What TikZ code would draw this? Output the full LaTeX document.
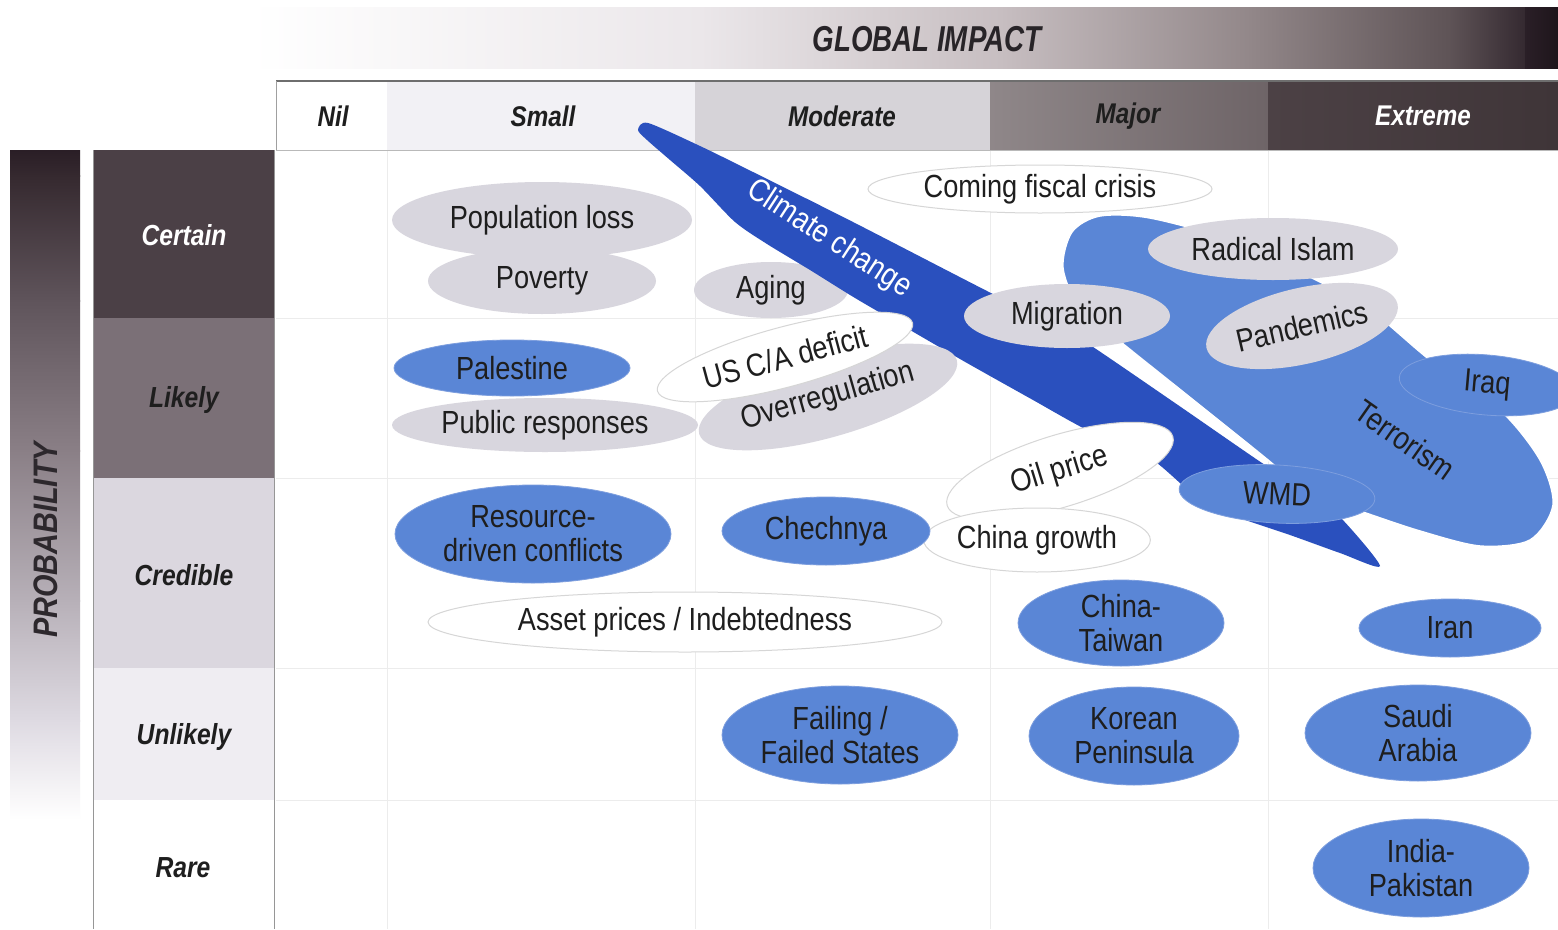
\documentclass[tikz,border=0pt]{standalone}
\usepackage{fontspec}
\setmainfont{Liberation Sans}[FakeStretch=0.85]
\newfontfamily\titlefont{Liberation Sans}[FakeStretch=0.77]
\usetikzlibrary{shapes.geometric}

\definecolor{ink}{HTML}{1E1E1E}
\definecolor{midblue}{RGB}{90,134,214}
\definecolor{blueedge}{RGB}{125,158,222}
\definecolor{bandblue}{RGB}{42,80,190}
\definecolor{bubgrey}{RGB}{216,214,222}
\definecolor{whiteedge}{RGB}{214,214,214}
\definecolor{gridc}{RGB}{236,236,236}

\begin{document}
\begin{tikzpicture}[x=1pt,y=-1pt,
  bub/.style={ellipse, inner sep=0pt, align=center, text=ink,
    font=\fontsize{32}{34}\selectfont},
  bluebub/.style={bub, fill=midblue, draw=blueedge, line width=0.8pt},
  greybub/.style={bub, fill=bubgrey},
  whitebub/.style={bub, fill=white, draw=whiteedge, line width=1pt},
  hdr/.style={font=\fontsize{28.5}{30}\selectfont\bfseries\itshape, text=ink},
  rowlab/.style={font=\fontsize{29}{30}\selectfont\bfseries\itshape, text=ink},
  gridline/.style={draw=gridc, line width=1pt}]

\clip (0,0) rectangle (1558,929);
\fill[white] (0,0) rectangle (1558,929);

% ---- impact bar across the top ----
\fill[left color=white, right color={rgb,255:red,235;green,231;blue,234}] (250,7) rectangle (701,68);
\fill[left color={rgb,255:red,235;green,231;blue,234}, right color={rgb,255:red,199;green,190;blue,193}] (700,7) rectangle (1001,68);
\fill[left color={rgb,255:red,199;green,190;blue,193}, right color={rgb,255:red,146;green,135;blue,137}] (1000,7) rectangle (1251,68);
\fill[left color={rgb,255:red,146;green,135;blue,137}, right color={rgb,255:red,94;green,83;blue,86}] (1250,7) rectangle (1451,68);
\fill[left color={rgb,255:red,94;green,83;blue,86}, right color={rgb,255:red,52;green,41;blue,48}] (1450,7) rectangle (1526,68);
\fill[left color={rgb,255:red,42;green,31;blue,39}, right color={rgb,255:red,30;green,21;blue,27}] (1525,7) rectangle (1558,68);
\node[font=\titlefont\fontsize{36}{38}\selectfont\bfseries\itshape, text={rgb,255:red,40;green,36;blue,40}] (title) at (927,39) {GLOBAL IMPACT};

% ---- impact header cells ----
\fill[white] (276,82) rectangle (387,150);
\fill[color={rgb,255:red,242;green,241;blue,245}] (387,82) rectangle (695,150);
\fill[color={rgb,255:red,214;green,211;blue,216}] (695,82) rectangle (990,150);
\fill[left color={rgb,255:red,143;green,135;blue,137}, right color={rgb,255:red,110;green,100;blue,103}] (990,82) rectangle (1268,150);
\fill[left color={rgb,255:red,76;green,65;blue,69}, right color={rgb,255:red,63;green,53;blue,56}] (1268,82) rectangle (1558,150);
\draw[color={rgb,255:red,110;green,110;blue,110}, line width=2pt] (276,81) -- (1558,81);
\draw[color={rgb,255:red,160;green,160;blue,160}, line width=1pt] (276,81) -- (276,150);
\draw[color={rgb,255:red,185;green,185;blue,185}, line width=1pt] (276,150) -- (1558,150);
\node[hdr] (hnil) at (333,116) {Nil};
\node[hdr] (hsmall) at (543,116) {Small};
\node[hdr] (hmod) at (842,116) {Moderate};
\node[hdr] (hmajor) at (1128,116) {Major};
\node[hdr, text=white] (hext) at (1423,116) {Extreme};

% ---- probability bar ----
\fill[top color={rgb,255:red,42;green,30;blue,38}, bottom color={rgb,255:red,53;green,41;blue,47}] (10,150) rectangle (80,176);
\fill[top color={rgb,255:red,53;green,41;blue,47}, bottom color={rgb,255:red,95;green,84;blue,91}] (10,175) rectangle (80,301);
\fill[top color={rgb,255:red,95;green,84;blue,91}, bottom color={rgb,255:red,138;green,127;blue,134}] (10,300) rectangle (80,451);
\fill[top color={rgb,255:red,138;green,127;blue,134}, bottom color={rgb,255:red,183;green,176;blue,184}] (10,450) rectangle (80,601);
\fill[top color={rgb,255:red,183;green,176;blue,184}, bottom color={rgb,255:red,222;green,218;blue,226}] (10,600) rectangle (80,721);
\fill[top color={rgb,255:red,222;green,218;blue,226}, bottom color=white] (10,720) rectangle (80,820);
\node[rotate=90, font=\fontsize{34}{36}\selectfont\bfseries\itshape, text={rgb,255:red,45;green,40;blue,45}] (prob) at (46,540) {PROBABILITY};

% ---- probability row labels ----
\fill[color={rgb,255:red,75;green,64;blue,70}] (93,150) rectangle (274,318);
\fill[color={rgb,255:red,123;green,112;blue,119}] (93,318) rectangle (274,478);
\fill[color={rgb,255:red,219;green,215;blue,223}] (93,478) rectangle (274,668);
\fill[color={rgb,255:red,239;green,237;blue,242}] (93,668) rectangle (274,800);
\draw[color={rgb,255:red,150;green,150;blue,150}, line width=1pt] (93,150) -- (93,929);
\draw[color={rgb,255:red,150;green,150;blue,150}, line width=1pt] (274,150) -- (274,929);
\node[rowlab, text=white] (rcertain) at (184,235) {Certain};
\node[rowlab] (rlikely) at (184,400) {Likely};
\node[rowlab] (rcredible) at (184,575) {Credible};
\node[rowlab] (runlikely) at (184,737) {Unlikely};
\node[rowlab] (rrare) at (183,868) {Rare};

% ---- faint grid ----
\foreach \yy in {318,478,668,800} \draw[gridline] (276,\yy) -- (1558,\yy);
\foreach \xx in {387,695,990,1268} \draw[gridline] (\xx,151) -- (\xx,929);

% ---- items lying under the climate band ----
\node[greybub, minimum width=154pt, minimum height=56pt] (aging) at (771,290) {Aging};

% ---- climate change band ----
\fill[bandblue] plot[smooth cycle, tension=0.45] coordinates {
  (1380,566) (1340,553) (1290,535) (1240,518) (1200,500) (1150,458)
  (1087,430) (1033,400) (967,363) (910,330) (855,298) (810,270)
  (767,244) (735,222) (700,186) (670,160) (647,140) (638,130) (648,123)
  (700,146) (753,172) (853,222) (987,291) (1050,322) (1087,343)
  (1175,403) (1262,463) (1305,490) (1340,517)};
\node[font=\fontsize{32}{34}\selectfont, text=white, rotate=-33] (climate) at (829,239) {Climate change};

% ---- terrorism region ----
\filldraw[fill=midblue, draw=white, line width=1.5pt] plot[smooth cycle, tension=0.5] coordinates {
  (1063,268) (1072,232) (1100,216) (1150,218) (1230,240) (1310,277)
  (1370,310) (1430,360) (1500,410) (1540,460) (1553,505) (1530,540)
  (1480,546) (1420,531) (1360,511) (1300,490) (1274,465) (1197,403)
  (1122,343) (1080,308)};

% ---- grey, white and blue bubbles ----
\node[greybub, minimum width=228pt, minimum height=66pt] (poverty) at (542,281) {Poverty};
\node[greybub, minimum width=300pt, minimum height=76pt] (poploss) at (542,220) {Population loss};
\node[bluebub, minimum width=236pt, minimum height=56pt] (palestine) at (512,368) {Palestine};
\node[greybub, minimum width=306pt, minimum height=54pt] (public) at (545,425) {Public responses};
\node[greybub, minimum width=268pt, minimum height=80pt, rotate=16] (overreg) at (828,397) {Overregulation};
\node[whitebub, minimum width=264pt, minimum height=60pt, rotate=15] (usca) at (785,357) {US C/A deficit};
\node[whitebub, minimum width=344pt, minimum height=48pt] (fiscal) at (1040,189) {Coming fiscal crisis};
\node[greybub, minimum width=206pt, minimum height=64pt] (migration) at (1067,316) {Migration};
\node[greybub, minimum width=250pt, minimum height=62pt] (radical) at (1273,249) {Radical Islam};
\node[greybub, minimum width=196pt, minimum height=76pt, rotate=13] (pandemics) at (1302,326) {Pandemics};
\node[bluebub, minimum width=176pt, minimum height=60pt, rotate=-5] (iraq) at (1487,385) {Iraq};
\node[font=\fontsize{32}{34}\selectfont, text=ink, rotate=-35] (terror) at (1405,440) {Terrorism};
\node[whitebub, minimum width=236pt, minimum height=72pt, rotate=17] (oil) at (1060,471) {Oil price};
\node[whitebub, minimum width=206pt, minimum height=64pt] (chinagr) at (1037,540) {China growth};
\node[bluebub, minimum width=196pt, minimum height=58pt, rotate=-3] (wmd) at (1277,494) {WMD};
\node[bluebub, minimum width=276pt, minimum height=98pt] (resource) at (533,534) {Resource-\\driven conflicts};
\node[bluebub, minimum width=208pt, minimum height=68pt] (chechnya) at (826,531) {Chechnya};
\node[whitebub, minimum width=514pt, minimum height=60pt] (asset) at (685,622) {Asset prices / Indebtedness};
\node[bluebub, minimum width=206pt, minimum height=86pt] (chinatw) at (1121,623) {China-\\Taiwan};
\node[bluebub, minimum width=182pt, minimum height=58pt] (iran) at (1450,628) {Iran};
\node[bluebub, minimum width=236pt, minimum height=98pt] (failing) at (840,735) {Failing /\\Failed States};
\node[bluebub, minimum width=210pt, minimum height=98pt] (korean) at (1134,736) {Korean\\Peninsula};
\node[bluebub, minimum width=226pt, minimum height=96pt] (saudi) at (1418,733) {Saudi\\Arabia};
\node[bluebub, minimum width=216pt, minimum height=98pt] (indpak) at (1421,868) {India-\\Pakistan};
\end{tikzpicture}
\end{document}
